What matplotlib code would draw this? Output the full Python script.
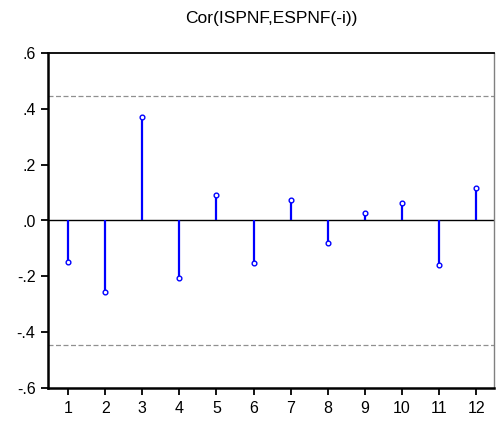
import matplotlib
matplotlib.use('Agg')
import matplotlib.pyplot as plt
import numpy as np

# datos
lags = [1, 2, 3, 4, 5, 6, 7, 8, 9, 10, 11, 12]
cor_values = [-0.148, -0.255, 0.370, -0.205, 0.090, -0.152, 0.075, -0.081, 0.026, 0.064, -0.158, 0.117]
conf_band = 0.445
y_ticks = [-0.6, -0.4, -0.2, 0.0, 0.2, 0.4, 0.6]
y_tick_labels = ['-.6', '-.4', '-.2', '.0', '.2', '.4', '.6']

plt.rcParams['font.family'] = ['Liberation Sans', 'DejaVu Sans']

fig = plt.figure(figsize=(4.96, 4.23), dpi=100)
ax = fig.add_axes([48 / 496, 35 / 423, 446 / 496, 335 / 423])

# bandas de confianza
ax.axhline(conf_band, color='#909090', lw=0.9, ls=(0, (4, 2)))
ax.axhline(-conf_band, color='#909090', lw=0.9, ls=(0, (4, 2)))
ax.axhline(0, color='black', lw=1.0)

# barras de correlacion
ax.vlines(lags, 0, cor_values, color='#0000ff', lw=1.6)
ax.plot(lags, cor_values, 'o', ms=3.4, mfc='white', mec='#0000ff', mew=1.0)

ax.set_xlim(0.46, 12.48)
ax.set_ylim(-0.6, 0.6)
ax.set_xticks(lags)
ax.set_xticklabels([str(l) for l in lags], fontsize=11.5)
ax.set_yticks(y_ticks)
ax.set_yticklabels(y_tick_labels, fontsize=11.5)
ax.tick_params(direction='out', length=5, width=1.3, pad=4)

ax.spines['left'].set_linewidth(1.8)
ax.spines['bottom'].set_linewidth(1.8)
ax.spines['top'].set_linewidth(1.3)
ax.spines['right'].set_linewidth(1.0)
ax.spines['right'].set_color('#808080')

fig.text(271 / 496, 1 - 18 / 423, 'Cor(ISPNF,ESPNF(-i))', ha='center', va='center', fontsize=12.5)

fig.savefig('out.png', dpi=100)
